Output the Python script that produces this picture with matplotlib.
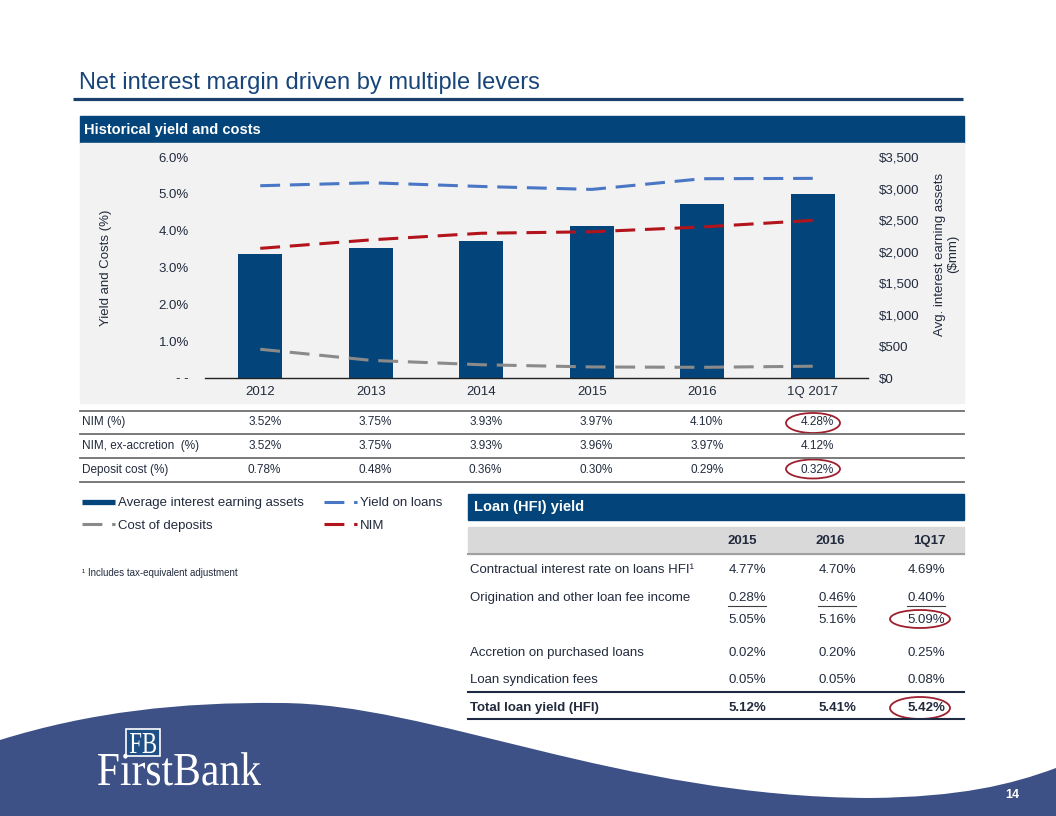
import matplotlib
matplotlib.use("Agg")
import matplotlib.pyplot as plt
import matplotlib.transforms as mtransforms
from matplotlib.patches import Rectangle, Ellipse, PathPatch
from matplotlib.path import Path
from matplotlib.textpath import TextPath
from matplotlib.font_manager import FontProperties
from matplotlib.lines import Line2D
from matplotlib.ticker import FuncFormatter

plt.rcParams["font.family"] = ["Liberation Sans", "DejaVu Sans"]

# ---- data ----
periods = ["2012", "2013", "2014", "2015", "2016", "1Q 2017"]
avg_assets = [1960, 2065, 2170, 2405, 2750, 2915]          # $mm
yield_on_loans = [5.22, 5.30, 5.20, 5.12, 5.41, 5.42]      # %
nim = [3.52, 3.75, 3.93, 3.97, 4.10, 4.28]                 # %
nim_ex_accretion = [3.52, 3.75, 3.93, 3.96, 3.97, 4.12]    # %
cost_of_deposits = [0.78, 0.48, 0.36, 0.30, 0.29, 0.32]    # %

loan_cols = ["2015", "2016", "1Q17"]
loan_labels = ["Contractual interest rate on loans HFI\u00b9",
               "Origination and other loan fee income",
               "",
               "Accretion on purchased loans",
               "Loan syndication fees",
               "Total loan yield (HFI)"]
contractual = [4.77, 4.70, 4.69]
origination = [0.28, 0.46, 0.40]
subtotal = [5.05, 5.16, 5.09]
accretion = [0.02, 0.20, 0.25]
syndication = [0.05, 0.05, 0.08]
total_yield = [5.12, 5.41, 5.42]

NAVY = "#03457A"
TXT = "#222B3D"
BLUE = "#4A76C6"
RED = "#B3141C"
GRAY = "#8A8A8A"
CIRCLE = "#9E1F2E"
FOOT = "#3E5186"

W, H = 1056, 816
fig = plt.figure(figsize=(W / 100, H / 100), dpi=100)
bg = fig.add_axes([0, 0, 1, 1])
bg.set_xlim(0, W); bg.set_ylim(H, 0); bg.axis("off")


def px_axes(x0, y0, x1, y1):
    return fig.add_axes([x0 / W, 1 - y1 / H, (x1 - x0) / W, (y1 - y0) / H])


# title + headers
bg.text(79, 89, "Net interest margin driven by multiple levers", fontsize=17,
        color="#17457A", va="baseline")
bg.plot([73, 963], [99, 99], color="#1B3F6B", lw=2.3, solid_capstyle="butt")
bg.add_patch(Rectangle((80, 116), 884, 27, color=NAVY))
bg.text(84, 130, "Historical yield and costs", fontsize=10.5, weight="bold",
        color="white", va="center")
bg.add_patch(Rectangle((80, 143), 884, 260, color="#F2F2F2"))

# ---- chart: bars on ax ($ axis, right), lines on the twin (% axis, left) ----
ax = px_axes(205, 157, 868, 378)
ax.set_facecolor("none")
x = list(range(len(periods)))
ax.bar(x, avg_assets, width=0.4, color=NAVY)
ax.set_xlim(-0.5, 5.5)
ax.set_ylim(0, 3500)

ax2 = ax.twinx()
ax2.set_ylim(0, 6)

# twinx() resets tick sides, so set them afterwards
ax.yaxis.tick_right()
ax.yaxis.set_label_position("right")
ax2.yaxis.tick_left()
ax2.yaxis.set_label_position("left")

ax.set_yticks(range(0, 3501, 500))
ax.yaxis.set_major_formatter(FuncFormatter(lambda v, p: f"${v:,.0f}"))
ax.set_xticks(x)
ax.set_xticklabels(periods)
ax.tick_params(axis="x", length=0, pad=6, labelsize=9.5, colors=TXT)
ax.tick_params(axis="y", length=0, pad=8, labelsize=9.5, colors=TXT)
for s in ["top", "left", "right"]:
    ax.spines[s].set_visible(False)
ax.spines["bottom"].set_color("#222222")
ax.spines["bottom"].set_linewidth(1.0)
ax.set_ylabel("Avg. interest earning assets\n($mm)", fontsize=9.5, color=TXT,
              multialignment="center", linespacing=1.15)
ax.yaxis.set_label_coords(1.099, 0.56)

ax2.set_yticks(range(0, 7))
ax2.yaxis.set_major_formatter(FuncFormatter(lambda v, p: "- -" if v == 0 else f"{v:.1f}%"))
ax2.tick_params(axis="y", length=0, pad=11.5, labelsize=9.5, colors=TXT)
for s in ax2.spines.values():
    s.set_visible(False)
ax2.set_ylabel("Yield and Costs (%)", fontsize=9.5, color=TXT)
ax2.yaxis.set_label_coords(-0.14, 0.5)

dash = (6.5, 3.2)
ax2.plot(x, yield_on_loans, color=BLUE, lw=2.2, dashes=dash, dash_capstyle="butt")
ax2.plot(x, nim, color=RED, lw=2.2, dashes=dash, dash_capstyle="butt")
ax2.plot(x, cost_of_deposits, color=GRAY, lw=2.2, dashes=dash, dash_capstyle="butt")

# ---- table under the chart ----
trans = mtransforms.blended_transform_factory(ax.transData, bg.transData)
for yy in [411, 434, 458, 482]:
    bg.plot([80, 964], [yy, yy], color="#707070", lw=1.3)
rows = [("NIM (%)", nim, 422), ("NIM, ex-accretion  (%)", nim_ex_accretion, 446),
        ("Deposit cost (%)", cost_of_deposits, 470)]
for label, vals, yy in rows:
    bg.text(82, yy, label, fontsize=8.5, color=TXT, va="center")
    for i, v in enumerate(vals):
        bg.text(i + 0.04, yy, f"{v:.2f}%", fontsize=8.5, color=TXT, va="center",
                ha="center", transform=trans)
bg.add_patch(Ellipse((813, 423), 54, 20, fill=False, ec=CIRCLE, lw=1.3))
bg.add_patch(Ellipse((813, 469), 54, 19, fill=False, ec=CIRCLE, lw=1.3))

# legend
handles = [Line2D([], [], color=NAVY, lw=3.8, solid_capstyle="butt"),
           Line2D([], [], color=GRAY, lw=2.2, dashes=dash, dash_capstyle="butt"),
           Line2D([], [], color=BLUE, lw=2.2, dashes=dash, dash_capstyle="butt"),
           Line2D([], [], color=RED, lw=2.2, dashes=dash, dash_capstyle="butt")]
labels = ["Average interest earning assets", "Cost of deposits", "Yield on loans", "NIM"]
leg = fig.legend(handles, labels, ncol=2, loc="upper left",
                 bbox_to_anchor=(82 / W, 1 - 497 / H), frameon=False,
                 fontsize=9.5, handlelength=2.5, handletextpad=0.25,
                 columnspacing=1.5, labelspacing=0.8, borderpad=0, borderaxespad=0)
for t in leg.get_texts():
    t.set_color(TXT)

bg.text(82, 573, "\u00b9 Includes tax-equivalent adjustment", fontsize=7, color=TXT, va="center")

# ---- loan yield table ----
bg.add_patch(Rectangle((468, 494), 496, 26, color=NAVY))
bg.text(474, 507, "Loan (HFI) yield", fontsize=10.5, weight="bold", color="white", va="center")
bg.add_patch(Rectangle((468, 527), 496, 27, color="#D9D9D9"))
bg.plot([468, 964], [554, 554], color="#A0A0A0", lw=1.5)
head_x = [742, 830, 929]
val_x = [766, 856, 945]
for hx, c in zip(head_x, loan_cols):
    bg.text(hx, 541, c, fontsize=9.5, weight="bold", color=TXT, ha="center", va="center")
loan_vals = [contractual, origination, subtotal, accretion, syndication, total_yield]
row_y = [570, 598, 620, 653, 680, 708]
for lab, vals, yy in zip(loan_labels, loan_vals, row_y):
    w = "bold" if lab.startswith("Total") else "normal"
    bg.text(470, yy, lab, fontsize=9.5, weight=w, color=TXT, va="center")
    for vx, v in zip(val_x, vals):
        bg.text(vx, yy, f"{v:.2f}%", fontsize=9.5, weight=w, color=TXT, va="center", ha="right")
for vx in val_x:
    bg.plot([vx - 38, vx], [606, 606], color="#404040", lw=0.8)
bg.plot([468, 964], [692, 692], color="#1F2A44", lw=1.5)
bg.plot([468, 964], [719, 719], color="#1F2A44", lw=1.5)
bg.add_patch(Ellipse((920, 619), 60, 18, fill=False, ec=CIRCLE, lw=1.3))
bg.add_patch(Ellipse((920, 708), 60, 22, fill=False, ec=CIRCLE, lw=1.3))

# ---- footer wave + logo ----
verts = [(0, 740), (90, 712), (180, 702), (280, 703),
         (430, 703), (620, 797), (870, 798),
         (960, 797), (1010, 785), (1056, 768),
         (1056, 816), (0, 816), (0, 740)]
codes = [Path.MOVETO] + [Path.CURVE4] * 9 + [Path.LINETO, Path.LINETO, Path.CLOSEPOLY]
bg.add_patch(PathPatch(Path(verts, codes), fc=FOOT, ec="none"))


def draw_word(s, x0, y_base, width, cap_h, family):
    fp = FontProperties(family=family)
    tp = TextPath((0, 0), s, size=1, prop=fp)
    cap = TextPath((0, 0), "F", size=1, prop=fp).get_extents().y1
    ext = tp.get_extents()
    tr = (mtransforms.Affine2D().translate(-ext.x0, 0)
          .scale(width / ext.width, -cap_h / cap).translate(x0, y_base))
    bg.add_patch(PathPatch(tr.transform_path(tp), fc="white", ec="none"))


bg.add_patch(Rectangle((126, 729), 34, 27, fc="#1E4F86", ec="white", lw=1.2))
draw_word("FB", 130, 753, 26, 20, "Liberation Serif")
draw_word("FirstBank", 98, 785, 163, 31, "Liberation Serif")
bg.text(1012, 795, "14", fontsize=9, weight="bold", color="white", ha="center", va="center")

fig.savefig("out.png", dpi=100)
